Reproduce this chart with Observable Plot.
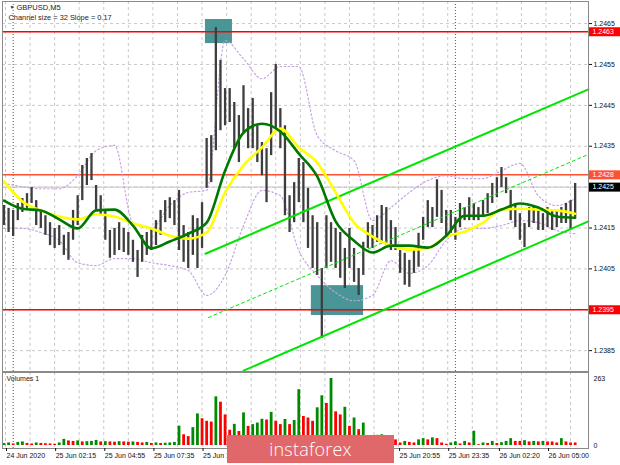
<!DOCTYPE html>
<html><head><meta charset="utf-8">
<script src="https://cdn.jsdelivr.net/npm/d3@7"></script>
<script src="https://cdn.jsdelivr.net/npm/@observablehq/plot@0.6"></script>
<style>
html,body{margin:0;padding:0;background:#fff;}
#chart{position:relative;width:620px;height:465px;overflow:hidden;background:#fff;}
#main,#vol{position:absolute;left:0;}
#main{top:0;}
#vol{top:372px;}
#wm{position:absolute;left:227px;top:435px;width:167px;height:28px;background:#e0676a;color:#fff;
  font:300 18px "Open Sans","Liberation Sans",sans-serif;display:flex;align-items:center;justify-content:center;letter-spacing:0.2px;}
</style></head>
<body><div id="chart"><div id="main"></div><div id="vol"></div><div id="wm">instaforex</div></div>
<script>
// ---------- data ----------
const barStart = Date.UTC(2020, 5, 24, 23, 30);   // first 15-minute bar
const barMinutes = 15;
const highs = [
 1.24205,1.24198,1.24193,1.24210,1.24222,1.24234,1.24249,1.24217,1.24193,1.24180,
 1.24163,1.24149,1.24156,1.24132,1.24139,1.24193,1.24229,1.24303,1.24320,1.24332,
 1.24254,1.24229,1.24193,1.24144,1.24149,1.24163,1.24149,1.24139,1.24120,1.24095,
 1.24132,1.24139,1.24149,1.24168,1.24193,1.24217,1.24224,1.24217,1.24242,1.24156,
 1.24139,1.24180,1.24173,1.24212,1.24369,1.24376,1.24640,1.24560,1.24491,1.24491,
 1.24457,1.24425,1.24498,1.24442,1.24467,1.24400,1.24359,1.24344,1.24481,1.24550,
 1.24442,1.24400,1.24229,1.24261,1.24320,1.24310,1.24247,1.24180,1.24163,1.24051,
 1.24180,1.24163,1.24149,1.24139,1.24100,1.24149,1.24100,1.24051,1.24115,1.24163,
 1.24156,1.24180,1.24205,1.24200,1.24168,1.24151,1.24095,1.24088,1.24071,1.24095,
 1.24137,1.24176,1.24217,1.24200,1.24268,1.24242,1.24193,1.24193,1.24176,1.24210,
 1.24200,1.24224,1.24210,1.24200,1.24217,1.24234,1.24259,1.24273,1.24298,1.24273,
 1.24242,1.24210,1.24185,1.24161,1.24200,1.24200,1.24193,1.24185,1.24200,1.24193,
 1.24193,1.24200,1.24210,1.24217,1.24259];
const lows = [
 1.24156,1.24139,1.24129,1.24168,1.24188,1.24198,1.24210,1.24156,1.24149,1.24132,
 1.24107,1.24100,1.24107,1.24083,1.24071,1.24120,1.24156,1.24217,1.24254,1.24266,
 1.24193,1.24180,1.24120,1.24076,1.24083,1.24095,1.24090,1.24083,1.24066,1.24029,
 1.24066,1.24083,1.24095,1.24107,1.24132,1.24163,1.24173,1.24156,1.24095,1.24066,
 1.24051,1.24083,1.24051,1.24100,1.24247,1.24261,1.24339,1.24388,1.24400,1.24408,
 1.24344,1.24310,1.24383,1.24344,1.24344,1.24310,1.24278,1.24212,1.24327,1.24393,
 1.24344,1.24180,1.24139,1.24163,1.24212,1.24163,1.24100,1.24051,1.24034,1.23880,
 1.24051,1.24066,1.24051,1.24027,1.24002,1.24051,1.24017,1.23985,1.24034,1.24100,
 1.24100,1.24115,1.24115,1.24107,1.24095,1.24095,1.24039,1.24010,1.24005,1.24039,
 1.24054,1.24120,1.24151,1.24151,1.24176,1.24161,1.24127,1.24137,1.24120,1.24151,
 1.24168,1.24168,1.24168,1.24168,1.24176,1.24185,1.24210,1.24224,1.24249,1.24234,
 1.24168,1.24151,1.24120,1.24102,1.24151,1.24161,1.24144,1.24144,1.24151,1.24144,
 1.24151,1.24161,1.24161,1.24144,1.24176];
const volumes = [
 8,10,6,12,14,8,6,10,8,7,6,5,10,
 24,18,16,18,14,15,16,20,14,15,14,13,15,14,13,14,12,10,12,8,10,8,9,10,12,
 76,42,35,70,124,105,95,92,191,170,120,60,83,55,128,75,82,88,103,100,
 130,95,82,102,82,98,219,114,108,95,148,195,165,263,132,120,150,75,108,62,88,35,30,
 40,42,30,36,22,10,16,12,10,22,27,22,30,27,10,5,10,14,6,16,
 10,56,3,10,8,16,8,11,16,27,16,16,19,14,16,14,16,14,14,10,27,14,10,10];

// indicator values read every 4 bars
const knotStep = 4;
const maSlow = [1.24264,1.24215,1.24193,1.24178,1.24171,1.24183,1.24178,1.24161,1.24149,1.24131,
 1.24124,1.24139,1.24237,1.24303,1.24347,1.24393,1.24347,1.24310,1.24237,1.24163,
 1.24129,1.24107,1.24097,1.24100,1.24129,1.24141,1.24163,1.24195,1.24197,1.24195,1.24193,1.24185];
const maFast = [1.24217,1.24197,1.24193,1.24171,1.24149,1.24193,1.24195,1.24156,1.24100,1.24117,
 1.24136,1.24163,1.24290,1.24383,1.24405,1.24386,1.24332,1.24276,1.24166,1.24119,
 1.24090,1.24107,1.24107,1.24102,1.24131,1.24180,1.24180,1.24195,1.24210,1.24200,1.24178,1.24175];
const bandUpper = [1.24259,1.24251,1.24246,1.24246,1.24278,1.24339,1.24352,1.24163,1.24149,1.24205,
 1.24237,1.24242,1.24608,1.24564,1.24515,1.24545,1.24545,1.24376,1.24339,1.24315,
 1.24168,1.24200,1.24237,1.24266,1.24278,1.24271,1.24271,1.24290,1.24308,1.24229,1.24205,1.24222];
const bandLower = [1.24149,1.24149,1.24139,1.24119,1.24065,1.24058,1.24075,1.24075,1.24065,1.24058,
 1.24046,1.23985,1.24034,1.24156,1.24242,1.24229,1.24095,1.24034,1.23992,1.23972,
 1.23985,1.24070,1.24039,1.24058,1.24119,1.24149,1.24149,1.24156,1.24168,1.24163,1.24144,1.24136];

// channel lines (start / end)
const channelUpperTimes = ["2020-06-25T10:26Z", "2020-06-26T07:13Z"];
const channelUpperPrices = [1.24087, 1.24489];
const channelMidTimes = ["2020-06-25T10:36Z", "2020-06-26T07:13Z"];
const channelMidPrices = [1.23931, 1.24330];
const channelLowerTimes = ["2020-06-25T12:30Z", "2020-06-26T07:13Z"];
const channelLowerPrices = [1.23801, 1.24166];

// highlighted zones
const zoneStarts = ["2020-06-25T10:26Z", "2020-06-25T16:11Z"];
const zoneEnds = ["2020-06-25T11:54Z", "2020-06-25T19:01Z"];
const zoneTops = [1.24660, 1.24009];
const zoneBottoms = [1.24601, 1.23936];

// horizontal levels
const levelPrices = [1.2463, 1.2428, 1.2425, 1.2395];
const levelLabels = ["1.2463", "1.2428", "1.2425", "1.2395"];
const levelLineColors = ["#ff0000", "#ff5030", "#c4c4c4", "#ff0000"];
const levelBoxColors = ["#ff0000", "#ff5030", "#000000", "#ff0000"];
const levelWidths = [1.5, 1.5, 1, 1.5];

const priceTicks = [1.2385, 1.2395, 1.2405, 1.2415, 1.2425, 1.2435, 1.2445, 1.2455, 1.2465];
const volumeTicks = [0, 263];
const dateTickTimes = ["2020-06-24T23:35Z","2020-06-25T02:15Z","2020-06-25T04:55Z","2020-06-25T07:35Z",
 "2020-06-25T10:15Z","2020-06-25T12:55Z","2020-06-25T15:35Z","2020-06-25T18:15Z","2020-06-25T20:55Z",
 "2020-06-25T23:35Z","2020-06-26T02:20Z","2020-06-26T05:00Z"];
const dateTickLabels = ["24 Jun 2020","25 Jun 02:15","25 Jun 04:55","25 Jun 07:35","25 Jun 10:15",
 "25 Jun 12:55","25 Jun 15:35","25 Jun 18:15","25 Jun 20:55","25 Jun 23:35","26 Jun 02:20","26 Jun 05:00"];
const daySeparatorTimes = ["2020-06-25T00:00Z", "2020-06-26T00:00Z"];
const titleLines = ["GBPUSD,M5", "Channel size = 32 Slope = 0.17"];
const volumeTitle = "Volumes 1";

// ---------- build tables ----------
const xDomain = [new Date("2020-06-24T23:25:14Z"), new Date("2020-06-26T07:13:24Z")];
const barTime = k => new Date(barStart + k * barMinutes * 60000);
const bars = highs.map((h, k) => ({time: barTime(k), high: h, low: lows[k], vol: volumes[k],
  up: k === 0 || volumes[k] > volumes[k - 1]}));
const knots = maSlow.map((v, i) => ({time: barTime(i * knotStep), slow: v, fast: maFast[i],
  upper: bandUpper[i], lower: bandLower[i]}));
const mk = (ts, ps) => ts.map((t, i) => ({time: new Date(t), price: ps[i]}));
const chUpper = mk(channelUpperTimes, channelUpperPrices);
const chMid = mk(channelMidTimes, channelMidPrices);
const chLower = mk(channelLowerTimes, channelLowerPrices);
const zones = zoneStarts.map((s, i) => ({start: new Date(s), end: new Date(zoneEnds[i]), top: zoneTops[i], bottom: zoneBottoms[i]}));
const levels = levelPrices.map((p, i) => ({price: p, label: levelLabels[i], line: levelLineColors[i],
  box: levelBoxColors[i], w: levelWidths[i], edge: xDomain[1]}));
const gridStart = Date.parse(dateTickTimes[0]);
const gridTimes = d3.range(0, 24).map(n => new Date(gridStart + n * 80 * 60000)).filter(d => d <= xDomain[1]);
const daySeps = daySeparatorTimes.map(d => new Date(d));
const dateTicks = dateTickTimes.map(d => new Date(d));
const labelByTime = new Map(dateTicks.map((d, i) => [+d, dateTickLabels[i]]));

const font = "'Liberation Sans', Arial, sans-serif";
const gridStyle = {stroke: "#c8c8c8", strokeDasharray: "3,3", strokeWidth: 1};
const sepStyle = {stroke: "#555", strokeDasharray: "1,2", strokeWidth: 1};

// ---------- main price panel ----------
const main = Plot.plot({
  width: 620, height: 372,
  marginLeft: 2, marginRight: 32, marginTop: 1, marginBottom: 1,
  x: {type: "utc", domain: xDomain, axis: null},
  y: {domain: [1.23799, 1.24704], axis: null},
  style: {background: "white", fontFamily: font, fontSize: "7px", overflow: "visible"},
  marks: [
    Plot.ruleY(priceTicks, gridStyle),
    Plot.ruleX(gridTimes, gridStyle),
    Plot.ruleX(daySeps, sepStyle),
    Plot.rect(zones, {x1: "start", x2: "end", y1: "bottom", y2: "top", fill: "#4a9696"}),
    Plot.ruleY(levels, {y: "price", stroke: "line", strokeWidth: "w"}),
    Plot.line(knots, {x: "time", y: "upper", curve: "monotone-x", stroke: "#c9a0e6", strokeWidth: 1.2, strokeDasharray: "1.5,2.5"}),
    Plot.line(knots, {x: "time", y: "lower", curve: "monotone-x", stroke: "#c9a0e6", strokeWidth: 1.2, strokeDasharray: "1.5,2.5"}),
    Plot.ruleX(bars, {x: "time", y1: "low", y2: "high", stroke: "#3e3e3e", strokeWidth: 2.3}),
    Plot.line(chUpper, {x: "time", y: "price", stroke: "#00e600", strokeWidth: 2}),
    Plot.line(chMid, {x: "time", y: "price", stroke: "#00e600", strokeWidth: 1, strokeDasharray: "3,3"}),
    Plot.line(chLower, {x: "time", y: "price", stroke: "#00e600", strokeWidth: 2}),
    Plot.line(knots, {x: "time", y: "slow", curve: "monotone-x", stroke: "#ffff00", strokeWidth: 2.6}),
    Plot.line(knots, {x: "time", y: "fast", curve: "monotone-x", stroke: "#007800", strokeWidth: 2.6}),
    Plot.frame({stroke: "#8a8a8a"}),
    Plot.axisY({anchor: "right", label: null, ticks: priceTicks, tickFormat: d3.format(".4f"), tickSize: 3, tickPadding: 2, fontSize: 7, color: "#111"}),
    Plot.ruleY(levels, {y: "price", x1: "edge", x2: "edge", insetLeft: 1, insetRight: -32, stroke: "box", strokeWidth: 9}),
    Plot.text(levels, {y: "price", x: "edge", text: "label", dx: 4, textAnchor: "start", fill: "white", fontSize: 7}),
    Plot.text(["▼"], {frameAnchor: "top-left", text: d => d, dx: 7, dy: 4, fontSize: 5, fill: "#222", lineAnchor: "top"}),
    Plot.text([titleLines[0]], {frameAnchor: "top-left", text: d => d, dx: 14, dy: 3, fontSize: 7.5, fill: "#222", textAnchor: "start", lineAnchor: "top"}),
    Plot.text([titleLines[1]], {frameAnchor: "top-left", text: d => d, dx: 6, dy: 13, fontSize: 7.4, fill: "#222", textAnchor: "start", lineAnchor: "top"})
  ]
});
document.getElementById("main").append(main);

// ---------- volume panel ----------
const vol = Plot.plot({
  width: 620, height: 93,
  marginLeft: 2, marginRight: 32, marginTop: 0, marginBottom: 17,
  x: {type: "utc", domain: xDomain, axis: null},
  y: {domain: [0, 263], insetTop: 6, insetBottom: 3, axis: null},
  style: {background: "white", fontFamily: font, fontSize: "7px", overflow: "visible"},
  marks: [
    Plot.ruleX(gridTimes, gridStyle),
    Plot.ruleX(daySeps, sepStyle),
    Plot.ruleX(bars, {x: "time", y1: 0, y2: "vol", stroke: d => d.up ? "#008a00" : "#ff0000", strokeWidth: 2.8}),
    Plot.frame({stroke: "#8a8a8a"}),
    Plot.axisY({anchor: "right", label: null, ticks: volumeTicks, tickSize: 0, tickPadding: 5, fontSize: 7, color: "#111"}),
    Plot.axisX({anchor: "bottom", label: null, ticks: dateTicks, tickFormat: d => labelByTime.get(+d), textAnchor: "start",
      tickSize: 3, tickPadding: 2, dx: 1, fontSize: 7, color: "#111"}),
    Plot.text([volumeTitle], {frameAnchor: "top-left", text: d => d, dx: 4, dy: 4, fontSize: 7, fill: "#222", textAnchor: "start", lineAnchor: "top"})
  ]
});
document.getElementById("vol").append(vol);
</script>
</body></html>
